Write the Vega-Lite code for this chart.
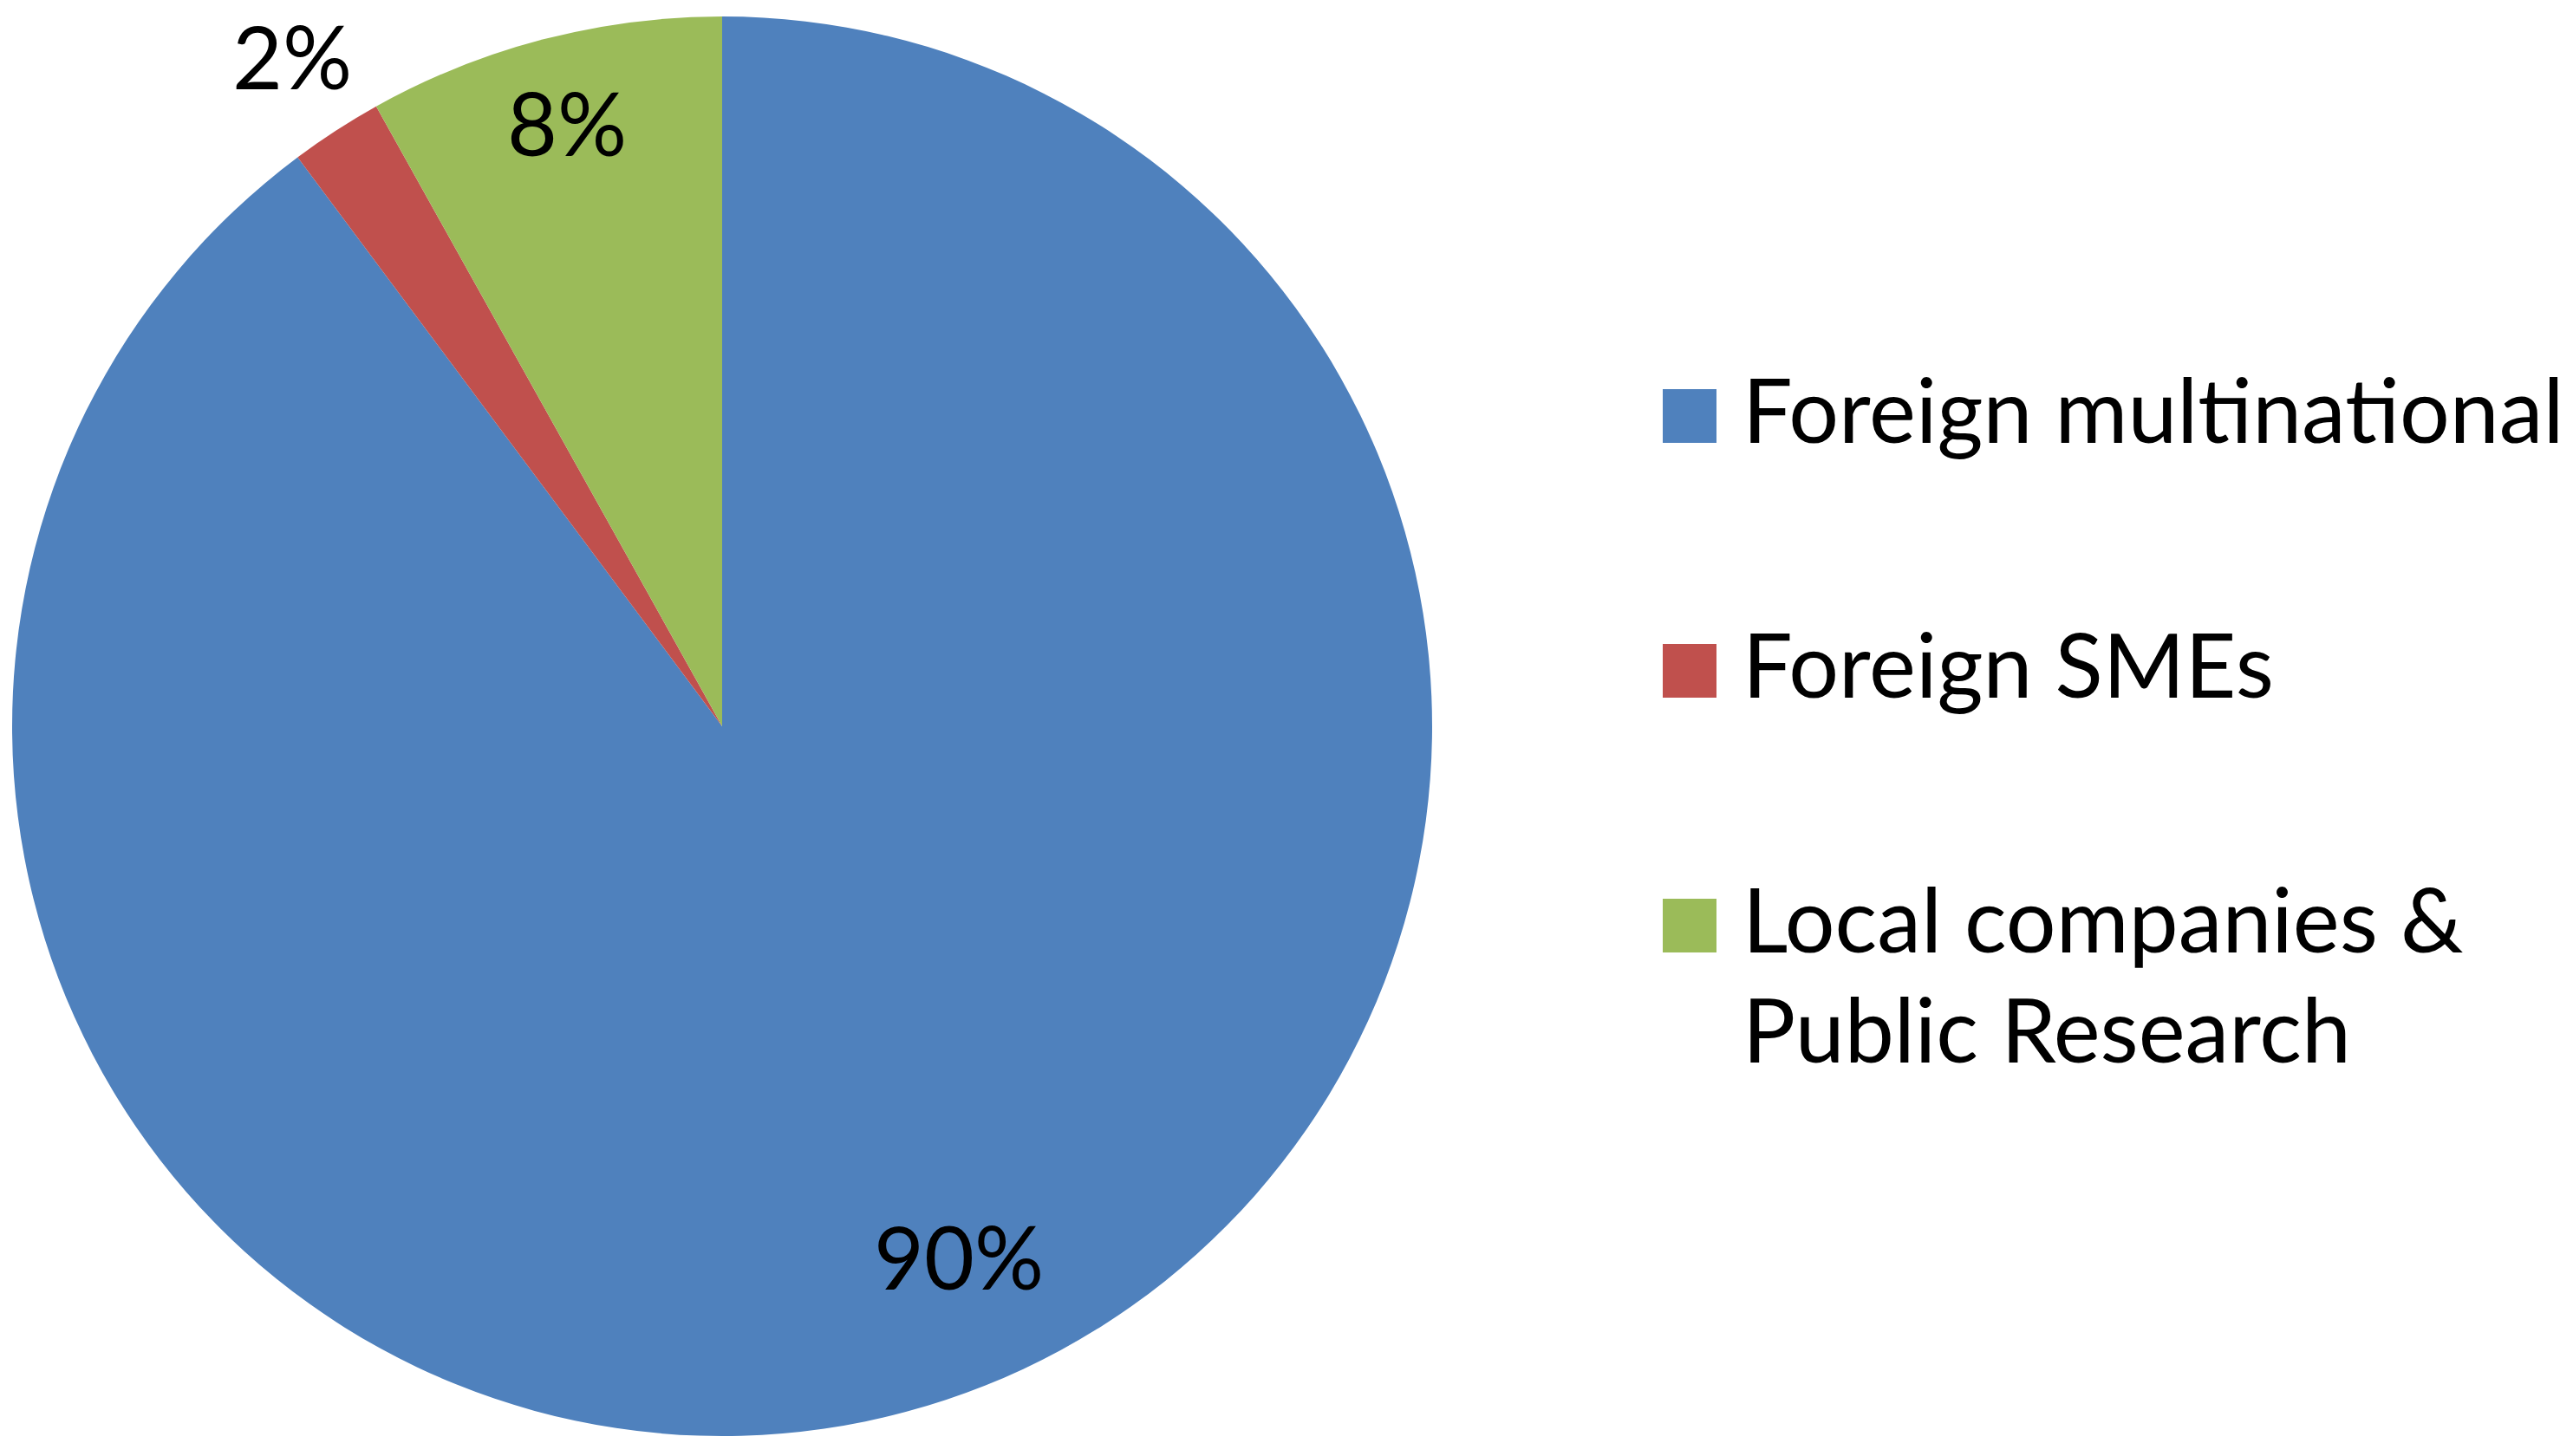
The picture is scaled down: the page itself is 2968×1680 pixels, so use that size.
{
  "$schema": "https://vega.github.io/schema/vega-lite/v6.json",
  "width": 1666,
  "height": 1676,
  "autosize": "none",
  "padding": {"left": 0, "top": 0, "right": 1302, "bottom": 4},
  "background": "white",
  "config": {
    "view": {"stroke": null},
    "font": "Lato",
    "style": {"guide-label": {"lineHeight": 127}}
  },
  "data": {
    "values": [
      {"name": "Foreign multinational", "value": 89.8, "label": "90%", "rank": 1},
      {"name": "Foreign SMEs", "value": 2.1, "label": "2%", "rank": 2},
      {"name": "Local companies & Public Research", "value": 8.1, "label": "8%", "rank": 3}
    ]
  },
  "encoding": {
    "theta": {"field": "value", "type": "quantitative", "stack": true},
    "order": {"field": "rank", "type": "quantitative", "sort": "ascending"},
    "color": {
      "field": "name",
      "type": "nominal",
      "sort": ["Foreign multinational", "Foreign SMEs", "Local companies & Public Research"],
      "scale": {
        "domain": ["Foreign multinational", "Foreign SMEs", "Local companies & Public Research"],
        "range": ["#4F81BD", "#C0504D", "#9BBB59"]
      },
      "legend": {
        "title": null,
        "orient": "none",
        "legendX": 1898,
        "legendY": 429,
        "padding": 0,
        "symbolType": "square",
        "symbolSize": 3844,
        "symbolStrokeWidth": 0,
        "labelFontSize": 102,
        "labelFont": "Lato",
        "labelColor": "black",
        "labelOffset": 10,
        "labelLimit": 1200,
        "rowPadding": 192,
        "labelBaseline": "middle",
        "labelExpr": "datum.label == 'Local companies & Public Research' ? ['Local companies &', 'Public Research'] : datum.label"
      }
    }
  },
  "layer": [
    {
      "mark": {"type": "arc", "radius": 819}
    },
    {
      "mark": {"type": "text", "radius": 680, "fontSize": 100, "font": "Lato", "dx": 59, "dy": -25, "color": "black"},
      "encoding": {
        "text": {"condition": {"test": "datum.name == 'Foreign multinational'", "field": "label"}, "value": ""},
        "color": {"value": "black"}
      }
    },
    {
      "mark": {"type": "text", "radius": 711, "fontSize": 100, "font": "Lato", "color": "black"},
      "encoding": {
        "text": {"condition": {"test": "datum.name == 'Local companies & Public Research'", "field": "label"}, "value": ""},
        "color": {"value": "black"}
      }
    },
    {
      "mark": {"type": "text", "radius": 912, "fontSize": 100, "font": "Lato", "color": "black"},
      "encoding": {
        "text": {"condition": {"test": "datum.name == 'Foreign SMEs'", "field": "label"}, "value": ""},
        "color": {"value": "black"}
      }
    }
  ]
}
